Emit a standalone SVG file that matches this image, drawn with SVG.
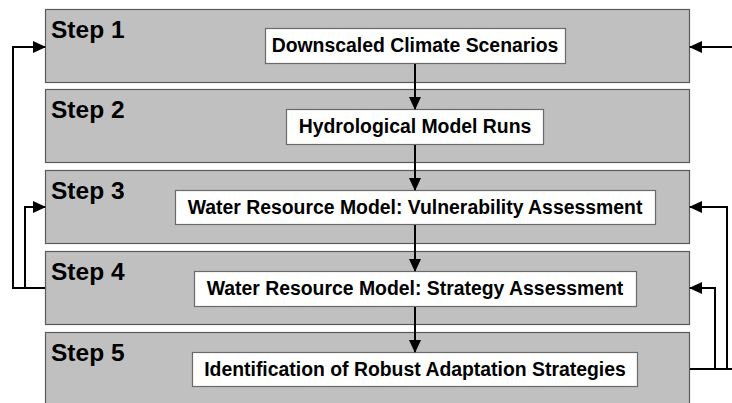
<svg xmlns="http://www.w3.org/2000/svg" width="732" height="403" viewBox="0 0 732 403">
<style>
.step{fill:#c0c0c0;stroke:#5a5a5a;stroke-width:1.2}
.box{fill:#fff;stroke:#6a6a6a;stroke-width:1.2}
.lbl{font-family:"Liberation Sans",Arial,sans-serif;font-weight:bold;font-size:24.5px;fill:#000}
.txt{font-family:"Liberation Sans",Arial,sans-serif;font-weight:bold;font-size:19.4px;fill:#000;text-anchor:middle}
.con{fill:none;stroke:#000;stroke-width:2}
</style>
<defs>
<marker id="ah" markerWidth="13" markerHeight="13" refX="12" refY="6.5" orient="auto" markerUnits="userSpaceOnUse">
<path d="M0,0.5 L13,6.5 L0,12.5 Z" fill="#000"/>
</marker>
</defs>
<rect width="732" height="403" fill="#fff"/>
<g id="step1">
<rect class="step" x="45.5" y="9.5" width="644" height="73"/>
<text class="lbl" x="51" y="38">Step 1</text>
<rect class="box" x="265.5" y="28.5" width="300" height="35"/>
<text class="txt" x="415" y="52">Downscaled Climate Scenarios</text>
</g>
<g id="step2">
<rect class="step" x="45.5" y="89.5" width="644" height="73"/>
<text class="lbl" x="51" y="118">Step 2</text>
<rect class="box" x="286.5" y="109.5" width="257" height="35"/>
<text class="txt" x="415" y="133">Hydrological Model Runs</text>
</g>
<g id="step3">
<rect class="step" x="45.5" y="170.5" width="644" height="73"/>
<text class="lbl" x="51" y="199">Step 3</text>
<rect class="box" x="175.5" y="190.5" width="480" height="34"/>
<text class="txt" x="415" y="214">Water Resource Model: Vulnerability Assessment</text>
</g>
<g id="step4">
<rect class="step" x="45.5" y="251.5" width="644" height="73"/>
<text class="lbl" x="51" y="280">Step 4</text>
<rect class="box" x="194.5" y="271.5" width="442" height="35"/>
<text class="txt" x="415" y="295">Water Resource Model: Strategy Assessment</text>
</g>
<g id="step5">
<rect class="step" x="45.5" y="332.5" width="644" height="75"/>
<text class="lbl" x="51" y="361">Step 5</text>
<rect class="box" x="192.5" y="352.5" width="445" height="34"/>
<text class="txt" x="415" y="376">Identification of Robust Adaptation Strategies</text>
</g>
<g id="connectors">
<line class="con" x1="415" y1="64" x2="415" y2="109" marker-end="url(#ah)"/>
<line class="con" x1="415" y1="145" x2="415" y2="190" marker-end="url(#ah)"/>
<line class="con" x1="415" y1="225" x2="415" y2="271" marker-end="url(#ah)"/>
<line class="con" x1="415" y1="307" x2="415" y2="352" marker-end="url(#ah)"/>
<path class="con" d="M45,288 H13 V47 H45" marker-end="url(#ah)"/>
<path class="con" d="M25,288 V207 H45" marker-end="url(#ah)"/>
<path class="con" d="M732,47 H690" marker-end="url(#ah)"/>
<path class="con" d="M690,369 H732"/>
<path class="con" d="M715,369 V288 H690" marker-end="url(#ah)"/>
<path class="con" d="M727,369 V207 H690" marker-end="url(#ah)"/>
</g>
</svg>
